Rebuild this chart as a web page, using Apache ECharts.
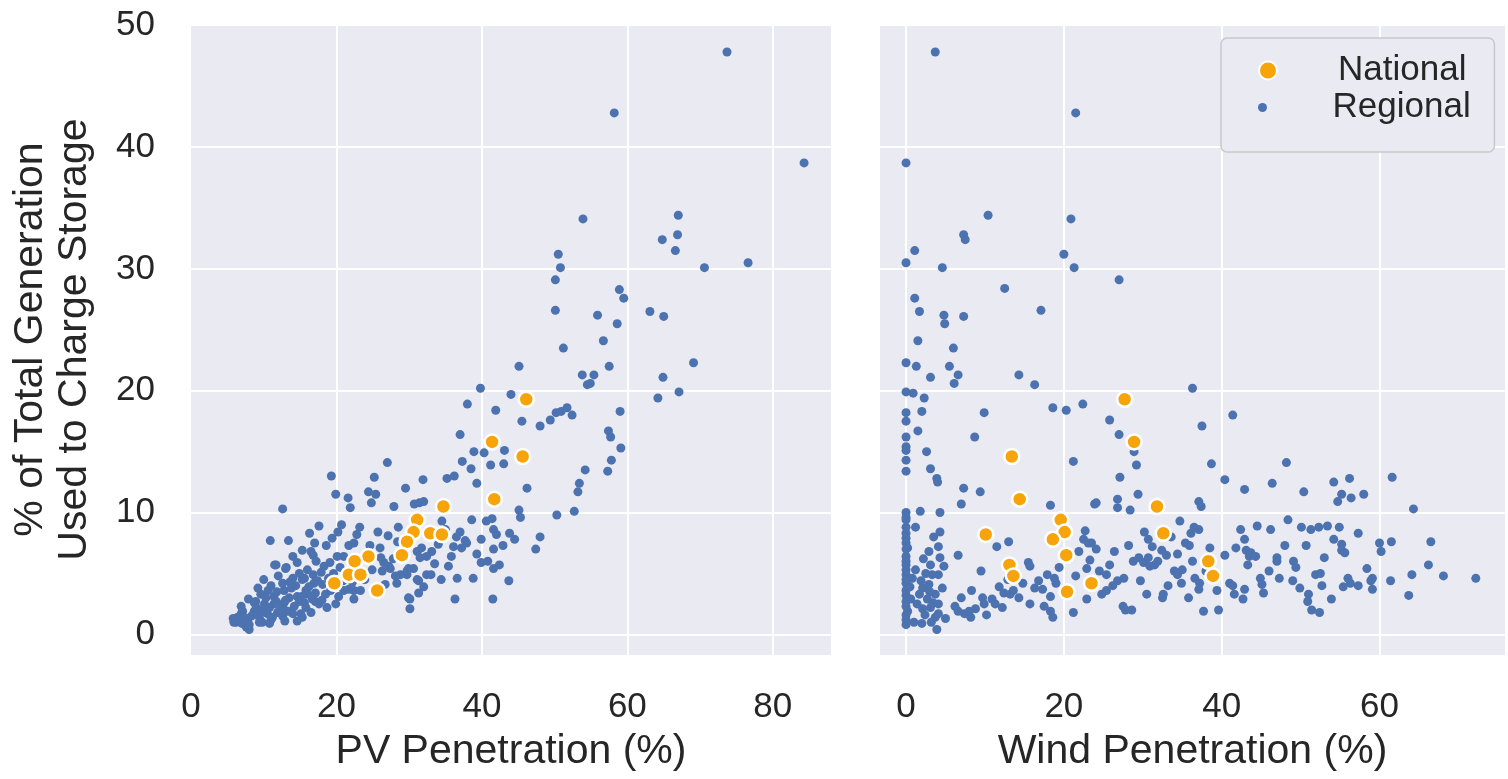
<!DOCTYPE html>
<html><head><meta charset="utf-8">
<script src="https://cdn.jsdelivr.net/npm/echarts@6/dist/echarts.min.js"></script>
<style>html,body{margin:0;padding:0;background:#fff}#c{width:1508px;height:779px}</style>
</head><body><div id="c"></div>
<script>
// ---- data (x = penetration %, y = % of generation used to charge storage) ----
const pvNational = [[46.1,19.3],[41.4,15.8],[45.6,14.6],[41.7,11.1],[34.7,10.5],[31.1,9.4],[30.6,8.4],[32.9,8.3],[34.5,8.2],[29.7,7.6],[29.0,6.5],[24.4,6.4],[22.5,6.0],[21.7,4.9],[23.3,4.9],[19.7,4.2],[25.6,3.6]];
const windNational = [[27.7,19.3],[28.9,15.8],[13.4,14.6],[14.4,11.1],[31.8,10.5],[19.6,9.4],[20.1,8.4],[32.6,8.3],[10.1,8.2],[18.6,7.8],[20.3,6.5],[38.3,6.0],[13.1,5.7],[13.6,4.8],[38.9,4.8],[23.5,4.2],[20.4,3.5]];
const pvRegional = [
[73.7,47.8],[58.2,42.8],[84.3,38.7],[53.9,34.1],[67.0,34.4],[66.9,32.8],[64.8,32.4],[66.6,31.5],[50.5,31.2],[50.8,30.1],[70.6,30.1],[76.6,30.5],[50.1,29.1],
[58.9,28.3],[59.5,27.6],[50.1,26.6],[55.9,26.2],[63.1,26.5],[65.0,26.1],[58.6,25.5],[56.7,24.1],[51.2,23.5],[69.1,22.3],[57.5,22.0],[45.1,22.0],[53.8,21.3],[55.4,21.3],[54.9,20.6],[54.5,20.5],[64.9,21.1],[67.1,19.9],[64.2,19.4],[39.8,20.2],[44.0,19.7],[38.0,18.9],[41.9,18.4],[45.5,17.5],[48.0,17.1],[49.4,17.6],[50.2,18.2],[50.9,18.3],[51.7,18.6],[52.4,18.0],[59.0,18.3],[37.0,16.4],[57.4,16.7],[57.7,16.2],[59.1,15.3],[38.9,15.0],[40.3,14.9],[43.1,15.1],[37.3,14.2],[38.5,13.6],[41.2,13.9],[43.0,14.0],[57.8,14.3],[54.2,13.5],[57.3,13.4],[27.0,14.1],[19.3,13.0],[25.2,12.9],[31.9,12.7],[35.2,12.8],[36.2,13.0],
[39.3,12.4],[46.2,12.0],[53.4,12.4],[53.2,11.7],[52.7,10.1],[50.3,9.8],[31.4,10.8],[32.0,10.9],[45.1,10.2],[45.3,9.6],[48.0,8.0],[47.4,7.0],[34.5,9.3],[38.6,9.4],[40.6,9.3],[41.4,9.5],[41.6,8.6],[42.0,8.2],[43.8,8.3],[44.5,7.8],[37.0,8.4],[36.5,8.0],[37.7,7.7],[36.1,7.2],[37.2,7.1],[37.9,7.5],[39.9,7.8],[41.6,7.0],[42.9,7.3],[39.9,5.9],[42.4,5.7],[41.6,5.4],[43.7,4.4],[38.8,4.6],[35.4,5.6],[36.3,2.9],[41.5,2.9],[29.7,4.9],[30.6,5.4],[32.4,4.9],[33.0,4.9],[31.1,6.8],[31.7,7.1],[32.4,6.4],[33.1,6.8],[31.5,6.3],[34.4,4.5],[31.3,4.4],[31.3,3.4],[30.1,2.9],[30.1,2.1],
[29.5,12.0],[19.9,11.5],[21.6,11.2],[24.4,11.7],[25.4,11.5],[24.8,10.8],[21.9,10.4],[27.9,10.5],[30.7,10.7],[12.6,10.3],[17.6,8.9],[16.3,8.3],[20.7,9.0],[20.2,8.4],[23.2,8.8],[25.7,8.4],[28.5,8.8],[10.9,7.7],[13.4,7.7],[18.6,7.3],[21.7,7.3],[22.4,7.5],[24.6,7.3],[16.5,6.8],[16.8,6.5],[11.5,5.7],[13.1,5.5],[14.6,5.9],[17.2,6.0],[18.3,5.6],[19.1,5.9],[20.5,5.5],[21.0,6.4],[26.5,5.9],[27.4,5.4],[28.8,4.9],[29.9,5.4],[10.0,4.5],[11.0,4.0],[12.6,4.2],[14.0,4.6],[15.6,4.6],[16.8,4.9],[16.9,4.2],[18.1,4.1],[21.0,3.6],[22.4,3.6],[23.3,3.6],[28.3,4.2],[29.9,3.0],[9.6,3.3],[11.4,3.1],[12.8,3.6],[14.6,3.1],[16.0,3.3],[17.1,2.7],[18.7,2.2],[8.7,2.6],[10.1,2.5],[11.4,2.5],[12.8,2.6],[14.2,2.3],[15.6,2.6],[6.9,1.7],[6.2,1.0],[7.8,1.2],[8.0,0.4],[8.7,1.9],[9.4,1.4],[10.5,1.7],[11.9,1.8],[13.3,1.9],[15.1,1.7],[11.0,1.2],[9.8,1.0],
[26.0,7.1],[15.3,4.5],[18.5,3.3],[20.3,3.1],[21.7,3.7],[22.4,2.9],[8.9,2.7],[7.1,1.9],[6.4,1.4],[5.9,1.0],[7.6,0.6],[10.3,3.0],[11.7,2.7],[12.6,2.3],[13.5,3.0],[14.9,2.7],[15.8,2.2],[16.7,2.9],[17.6,2.5],[8.9,1.7],[10.3,1.8],[11.2,1.4],[12.6,1.5],[14.0,1.7],[15.3,1.4],[6.7,1.1],[8.0,0.8],[9.4,1.0],[15.8,3.6],[17.1,3.4],[26.3,5.2],[27.2,5.6],[28.1,4.8],[26.7,4.1],[29.7,5.2],[31.1,4.5],[20.1,6.4],[13.0,5.4],[11.7,5.7],
[7.0,0.9],[7.3,1.4],[8.3,1.5],[9.0,2.2],[9.9,2.0],[10.8,2.2],[11.8,3.5],[12.2,2.0],[13.0,2.8],[13.8,3.8],[14.4,4.0],[15.2,3.1],[16.2,3.9],[16.5,1.8],[17.4,4.4],[18.0,2.8],[18.9,4.6],[19.2,3.6],[19.6,5.0],[17.9,5.1],[16.0,5.3],[14.9,5.0],[13.6,4.3],[12.0,4.8],[10.6,3.6],[9.2,3.8],[7.9,2.9],[6.9,2.3],[5.8,1.3],[10.8,0.9],[12.9,1.1],[14.6,1.1],[19.9,2.5],[20.9,4.4],[22.2,4.3],[23.9,4.5],[24.9,5.3],[26.1,6.3],[27.8,6.2],[28.4,7.6],[27.1,8.1],[19.4,7.9],[17.0,7.5],[15.3,6.9],[14.0,6.4],[22.8,8.2],[35.8,6.4],[34.0,7.4],[33.5,5.8],[36.6,4.6],[39.3,6.6],[40.8,6.0],[32.0,3.9],[35.0,8.6]
];
const windRegional = [
[3.7,47.8],[21.5,42.8],[0.0,38.7],[10.4,34.4],[20.9,34.1],[7.3,32.8],[7.5,32.4],[1.1,31.5],[0.0,30.5],[4.6,30.1],[20.0,31.2],[21.3,30.1],[27.0,29.1],[12.5,28.4],
[1.1,27.6],[1.7,26.5],[4.8,26.2],[4.9,25.5],[7.3,26.1],[17.1,26.6],[1.5,24.1],[6.0,23.5],[0.0,22.3],[1.3,22.0],[5.5,22.0],[6.6,21.3],[3.1,21.1],[6.1,20.6],[14.3,21.3],[16.3,20.5],[36.3,20.2],[0.0,19.9],[0.9,19.8],[2.3,19.4],[18.6,18.6],[20.3,18.4],[22.4,18.9],[41.4,18.0],[0.0,18.2],[2.0,18.3],[9.9,18.2],[0.0,17.5],[25.8,17.6],[1.5,16.7],[37.5,17.1],[27.0,16.4],[0.0,16.2],[8.7,16.2],[0.0,15.4],[0.0,15.1],[2.6,15.0],[28.9,15.0],[0.0,14.3],[21.2,14.2],[29.2,13.9],[38.7,14.0],[48.2,14.1],[0.0,13.4],[3.1,13.6],[3.9,12.8],
[4.0,12.5],[7.3,12.0],[9.4,11.7],[7.0,10.7],[1.8,10.1],[4.3,10.0],[18.3,10.6],[23.9,10.7],[0.0,9.6],[0.0,9.4],[4.3,8.4],[0.0,8.3],[0.0,7.9],[0.0,7.5],[0.2,7.1],[2.9,6.8],[4.1,7.2],[4.3,6.3],[6.6,6.5],[11.5,7.2],[13.0,7.6],[15.5,5.9],[15.7,5.6],[0.0,6.4],[0.0,5.7],[0.0,4.9],[0.0,4.2],[0.8,4.6],[0.0,3.6],[0.0,2.7],[0.2,1.9],[0.0,1.2],[1.0,1.0],[3.1,5.7],[4.1,4.9],[3.3,4.9],[2.9,4.1],[2.1,3.8],[1.7,3.3],[2.7,2.9],[3.7,3.3],[4.1,2.5],[3.1,2.2],[2.1,2.1],[3.7,1.4],[3.9,0.4],[4.1,1.7],[9.5,5.2],[8.3,3.6],[9.7,3.0],[9.9,2.5],[10.9,2.9],[11.3,2.5],[12.2,2.2],[6.6,1.9],[7.4,1.7],[8.2,1.4],[8.0,1.9],[12.4,3.4],[13.2,3.3],[13.6,3.6],[15.7,2.5],[17.9,4.9],[18.8,4.6],[17.3,3.7],[18.3,3.1],[18.3,1.9],[18.6,1.4],[21.2,1.8],[22.9,2.9],[22.7,8.5],[22.9,5.4],[22.5,7.8],[23.5,7.5],[16.3,3.8],
[42.9,11.9],[46.4,12.4],[40.4,12.7],[27.1,12.9],[29.4,11.5],[26.8,11.1],[26.8,10.4],[28.4,10.2],[24.1,10.8],[37.1,10.9],[37.4,10.5],[34.7,9.3],[30.2,8.4],[30.7,7.8],[36.1,8.3],[36.5,8.8],[37.1,8.6],[35.4,7.5],[35.9,7.3],[23.1,7.5],[24.1,7.0],[23.3,6.1],[32.4,6.9],[33.0,6.5],[34.4,6.6],[38.5,7.1],[28.8,6.0],[29.5,6.3],[30.1,5.9],[30.7,6.3],[30.9,5.6],[31.5,5.7],[31.9,6.0],[25.8,5.7],[25.4,4.9],[27.6,4.6],[26.8,4.4],[26.2,4.0],[25.4,3.6],[29.7,4.4],[34.0,5.2],[35.0,5.3],[34.4,4.9],[34.9,4.2],[36.6,4.6],[37.2,4.2],[37.1,3.7],[30.5,3.3],[32.6,3.3],[32.5,3.0],[27.5,2.3],[27.8,2.0],[28.6,2.0],[37.7,1.9],[39.6,2.0],[40.4,6.5],[41.8,7.1],[42.4,8.6],[42.9,7.8],[43.1,6.9],[43.5,6.4],[43.3,5.7],[43.7,6.7],[44.3,6.4],[44.9,4.6],[45.1,4.1],[45.3,3.4],[42.9,3.7],[42.7,2.9],[41.4,4.0],[41.0,4.2],[41.6,3.3],[46.2,8.6],[47.0,6.3],[47.0,6.0],[47.3,4.6],[48.4,9.4],
[54.2,12.5],[56.2,12.8],[61.6,12.9],[50.4,11.7],[55.2,11.5],[56.4,11.2],[58.0,11.5],[54.7,10.9],[64.3,10.3],[50.1,8.8],[51.3,8.6],[52.3,8.8],[53.4,8.9],[54.9,8.8],[57.3,8.3],[54.2,7.8],[55.2,7.4],[55.2,6.9],[55.6,6.7],[50.7,7.3],[60.0,7.5],[60.2,6.8],[61.5,7.6],[66.5,7.6],[53.0,6.3],[49.1,6.0],[49.4,5.5],[51.9,4.9],[52.5,5.0],[52.7,4.0],[49.9,3.8],[51.0,3.3],[50.9,2.7],[51.4,2.0],[52.4,1.8],[53.9,2.9],[55.4,3.9],[56.0,4.6],[56.3,4.2],[57.3,4.0],[58.4,5.4],[59.1,4.6],[58.9,4.4],[59.1,3.7],[61.4,4.4],[64.1,4.9],[63.7,3.2],[66.2,5.7],[68.1,4.8],[72.2,4.6],
[0.0,10.0],[0.0,8.8],[0.0,7.0],[0.0,6.0],[0.0,5.3],[0.0,4.5],[0.0,3.2],[0.0,2.3],[0.0,1.6],[0.0,0.8],[0.5,3.9],[0.6,2.9],[1.2,5.3],[1.4,2.5],[1.9,4.4],[2.4,1.6],[2.5,5.0],[3.0,3.5],[3.4,2.6],[2.2,6.2],[1.2,8.8],[3.5,8.0],[4.8,5.6],[4.6,3.8],[5.0,1.3],[3.2,1.0],[2.0,0.9],[6.2,2.3],[7.0,3.0],[8.8,2.1],[10.2,1.6],[11.8,3.9],[12.9,4.5],[14.3,3.0],[14.8,4.2],[16.8,4.4],[17.5,2.3],[19.0,4.2],[19.4,5.5],[21.5,4.8],[21.9,6.8],[24.5,5.2],[24.8,3.3],[26.4,6.8],[28.2,7.3],[31.2,7.2],[33.6,8.0],[33.2,4.0],[35.8,3.0],[36.3,6.0],[38.0,5.2],[39.4,3.6],[44.5,8.9],[46.0,5.2],[48.0,7.3],[49.0,4.4]
];
const pvTicks = [0, 20, 40, 60, 80];
const windTicks = [0, 20, 40, 60];
const yTicks = [0, 10, 20, 30, 40, 50];
const seriesNames = ['National', 'Regional'];
const xTitles = ['PV Penetration (%)', 'Wind Penetration (%)'];
const yTitle = '% of Total Generation\nUsed to Charge Storage';

// ---- styling ----
const FONT = 'Liberation Sans, Arial, Helvetica, sans-serif';
const TXT = '#262626';
const BG = '#EAEAF2';
const BLUE = '#4C72B0';
const ORANGE = '#F7A40B';
const tickFmt = ticks => v => (ticks.some(t => Math.abs(t - v) < 1e-6) ? String(Math.round(v)) : '');

function xAxisCfg(gridIndex, min, max, ticks, name) {
  return {
    type: 'value', gridIndex, min, max, minInterval: 20, maxInterval: 20,
    name, nameLocation: 'middle', nameGap: 72,
    nameTextStyle: { fontFamily: FONT, fontSize: 41, color: TXT, lineHeight: 44 },
    axisLine: { show: false }, axisTick: { show: false },
    axisLabel: { formatter: tickFmt(ticks), fontFamily: FONT, fontSize: 35, color: TXT, margin: 35, lineHeight: 35 },
    splitLine: { show: true, showMinLine: false, showMaxLine: false, lineStyle: { color: '#ffffff', width: 2 } }
  };
}
function yAxisCfg(gridIndex, showLabels) {
  return {
    type: 'value', gridIndex, min: -1.7, max: 50.1, minInterval: 10, maxInterval: 10,
    name: showLabels ? yTitle : '', nameLocation: 'middle', nameGap: 94, nameRotate: 90,
    nameTextStyle: { fontFamily: FONT, fontSize: 41, color: TXT, lineHeight: 44 },
    axisLine: { show: false }, axisTick: { show: false },
    axisLabel: { show: showLabels, formatter: tickFmt(yTicks), fontFamily: FONT, fontSize: 35, color: TXT, margin: 36 },
    splitLine: { show: true, showMinLine: false, showMaxLine: false, lineStyle: { color: '#ffffff', width: 2 } }
  };
}
function regional(idx, data) {
  return { type: 'scatter', name: seriesNames[1], xAxisIndex: idx, yAxisIndex: idx, data,
    symbol: 'circle', symbolSize: 9, itemStyle: { color: BLUE, opacity: 1 }, z: 2, silent: true };
}
function national(idx, data) {
  return { type: 'scatter', name: seriesNames[0], xAxisIndex: idx, yAxisIndex: idx, data,
    symbol: 'circle', symbolSize: 15, itemStyle: { color: ORANGE, borderColor: '#ffffff', borderWidth: 2.5, opacity: 1 }, z: 3, silent: true };
}
const legendText = { fontFamily: FONT, fontSize: 35, color: TXT, lineHeight: 37, padding: [0, 0, 0, 50] };

const chart = echarts.init(document.getElementById('c'), null, { renderer: 'canvas' });
chart.setOption({
  animation: false,
  backgroundColor: '#ffffff',
  grid: [
    { left: 191, top: 24, width: 640, height: 633, backgroundColor: BG, show: true, borderWidth: 0 },
    { left: 880, top: 24, width: 640, height: 633, backgroundColor: BG, show: true, borderWidth: 0 }
  ],
  xAxis: [ xAxisCfg(0, 0, 88, pvTicks, xTitles[0]), xAxisCfg(1, -3.3, 75.9, windTicks, xTitles[1]) ],
  yAxis: [ yAxisCfg(0, true), yAxisCfg(1, false) ],
  legend: [
    { data: [seriesNames[0]], orient: 'vertical', left: 1221, top: 38, selectedMode: false,
      backgroundColor: BG, borderColor: '#c8c8cc', borderWidth: 1.5, borderRadius: 6,
      padding: [14, 28, 63, 37], itemWidth: 30, itemHeight: 18, icon: 'circle', textStyle: legendText },
    { data: [seriesNames[1]], orient: 'vertical', left: 1258, top: 89, selectedMode: false,
      padding: 0, itemWidth: 30, itemHeight: 9, icon: 'circle', textStyle: legendText }
  ],
  series: [
    regional(0, pvRegional), national(0, pvNational),
    regional(1, windRegional), national(1, windNational)
  ]
});
</script>
</body></html>
